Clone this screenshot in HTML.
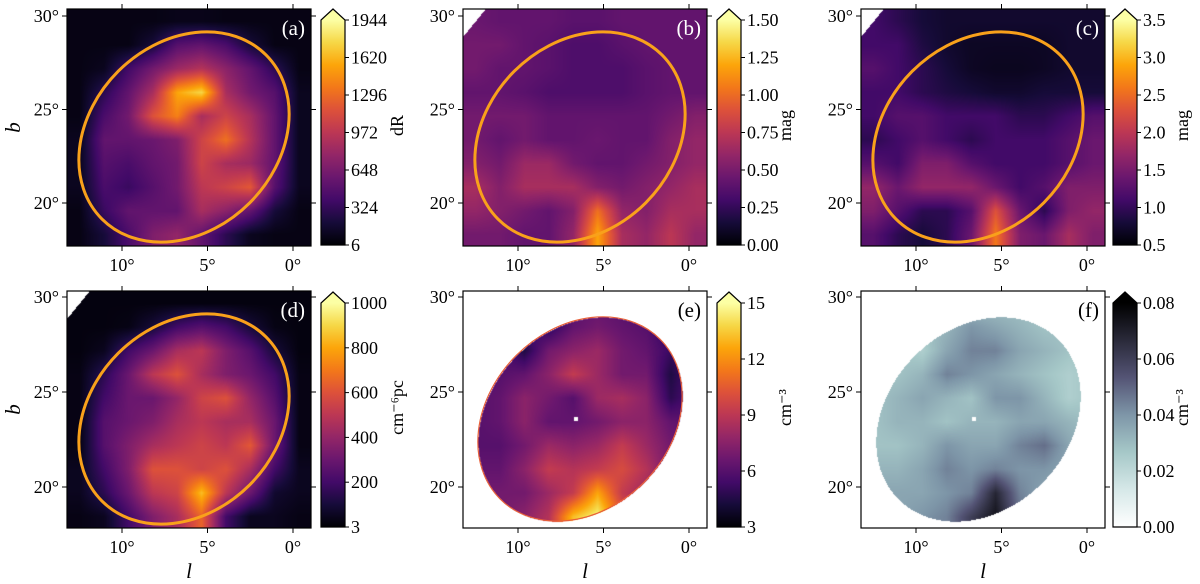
<!DOCTYPE html>
<html><head><meta charset="utf-8">
<style>
html,body{margin:0;padding:0;background:#fff;}
#wrap{position:relative;width:1200px;height:584px;overflow:hidden;font-family:"Liberation Serif",serif;}
canvas{position:absolute;}
svg{position:absolute;left:0;top:0;font-family:"Liberation Serif",serif;}
</style></head>
<body>
<div id="wrap">
<canvas id="c0"></canvas>
<canvas id="c1"></canvas>
<canvas id="c2"></canvas>
<canvas id="c3"></canvas>
<canvas id="c4"></canvas>
<canvas id="c5"></canvas>
<svg id="ov" width="1200" height="584"></svg>
</div>
<script>
// ---- data: normalized map grids (fraction of colorbar range), 10x10, rows top->bottom ----
const gridA = [
[0.03,0.03,0.03,0.03,0.04,0.04,0.03,0.03,0.03,0.03],
[0.03,0.03,0.03,0.10,0.25,0.28,0.22,0.10,0.03,0.03],
[0.03,0.05,0.20,0.32,0.42,0.48,0.38,0.28,0.15,0.03],
[0.03,0.15,0.28,0.45,0.80,0.90,0.45,0.32,0.25,0.05],
[0.03,0.22,0.32,0.60,0.72,0.45,0.55,0.45,0.28,0.05],
[0.05,0.28,0.28,0.30,0.35,0.55,0.68,0.48,0.28,0.05],
[0.05,0.25,0.22,0.28,0.32,0.55,0.45,0.42,0.28,0.05],
[0.05,0.22,0.18,0.25,0.32,0.50,0.55,0.62,0.25,0.05],
[0.03,0.18,0.28,0.28,0.28,0.45,0.38,0.28,0.10,0.03],
[0.03,0.10,0.22,0.35,0.40,0.28,0.15,0.05,0.03,0.03]];
const gridB = [
[0.30,0.28,0.28,0.28,0.26,0.26,0.28,0.28,0.28,0.28],
[0.32,0.32,0.28,0.26,0.23,0.23,0.26,0.28,0.28,0.28],
[0.32,0.28,0.28,0.26,0.23,0.23,0.23,0.26,0.28,0.28],
[0.28,0.28,0.26,0.23,0.23,0.23,0.23,0.26,0.28,0.28],
[0.32,0.32,0.32,0.28,0.28,0.28,0.28,0.28,0.32,0.36],
[0.32,0.28,0.32,0.28,0.28,0.30,0.28,0.28,0.36,0.40],
[0.36,0.32,0.42,0.42,0.32,0.28,0.28,0.32,0.36,0.40],
[0.45,0.36,0.45,0.45,0.45,0.36,0.32,0.36,0.40,0.45],
[0.40,0.36,0.32,0.28,0.36,0.68,0.40,0.36,0.45,0.45],
[0.32,0.32,0.28,0.28,0.40,0.80,0.45,0.40,0.50,0.40]];
const gridC = [
[0.20,0.15,0.10,0.08,0.08,0.08,0.08,0.08,0.08,0.08],
[0.20,0.20,0.12,0.08,0.06,0.06,0.06,0.06,0.08,0.08],
[0.25,0.20,0.15,0.10,0.06,0.05,0.05,0.06,0.08,0.08],
[0.20,0.20,0.15,0.12,0.10,0.08,0.08,0.10,0.10,0.10],
[0.20,0.25,0.25,0.20,0.20,0.20,0.15,0.15,0.20,0.25],
[0.15,0.20,0.25,0.20,0.15,0.20,0.20,0.20,0.25,0.30],
[0.25,0.20,0.35,0.35,0.25,0.20,0.20,0.20,0.25,0.30],
[0.40,0.30,0.40,0.40,0.40,0.30,0.20,0.25,0.35,0.35],
[0.35,0.25,0.15,0.15,0.25,0.60,0.30,0.15,0.35,0.40],
[0.25,0.15,0.10,0.15,0.30,0.70,0.35,0.30,0.45,0.35]];
const gridD = [
[0.02,0.02,0.02,0.02,0.02,0.02,0.02,0.02,0.02,0.02],
[0.02,0.02,0.03,0.10,0.20,0.25,0.20,0.10,0.03,0.02],
[0.02,0.05,0.20,0.30,0.45,0.50,0.35,0.25,0.10,0.02],
[0.03,0.15,0.30,0.50,0.60,0.45,0.35,0.30,0.20,0.03],
[0.03,0.20,0.30,0.30,0.40,0.55,0.60,0.40,0.25,0.03],
[0.03,0.25,0.30,0.35,0.45,0.50,0.45,0.45,0.30,0.03],
[0.03,0.25,0.35,0.45,0.50,0.55,0.50,0.62,0.30,0.03],
[0.05,0.20,0.35,0.60,0.60,0.55,0.60,0.45,0.20,0.05],
[0.05,0.15,0.30,0.50,0.55,0.85,0.50,0.30,0.08,0.05],
[0.03,0.05,0.20,0.35,0.45,0.65,0.20,0.05,0.05,0.03]];
const gridE = [
[0.25,0.25,0.25,0.20,0.25,0.28,0.25,0.20,0.15,0.25],
[0.25,0.25,0.25,0.15,0.28,0.32,0.28,0.25,0.15,0.25],
[0.25,0.25,0.12,0.32,0.38,0.42,0.32,0.28,0.18,0.25],
[0.25,0.25,0.28,0.38,0.52,0.42,0.32,0.32,0.12,0.25],
[0.25,0.28,0.38,0.32,0.25,0.42,0.45,0.38,0.15,0.25],
[0.25,0.28,0.38,0.28,0.28,0.32,0.38,0.38,0.28,0.25],
[0.25,0.25,0.32,0.42,0.38,0.42,0.52,0.42,0.32,0.32],
[0.28,0.28,0.38,0.52,0.48,0.52,0.58,0.48,0.32,0.32],
[0.32,0.32,0.32,0.42,0.52,0.80,0.52,0.42,0.32,0.32],
[0.32,0.32,0.38,0.48,0.85,0.97,0.62,0.42,0.32,0.32]];
const gridF = [
[0.35,0.35,0.35,0.35,0.35,0.35,0.35,0.35,0.35,0.35],
[0.35,0.35,0.35,0.40,0.50,0.45,0.40,0.35,0.35,0.35],
[0.35,0.35,0.30,0.45,0.55,0.55,0.45,0.40,0.35,0.35],
[0.35,0.35,0.40,0.55,0.50,0.45,0.40,0.35,0.30,0.35],
[0.35,0.40,0.45,0.40,0.35,0.50,0.50,0.40,0.30,0.35],
[0.35,0.40,0.40,0.35,0.40,0.40,0.45,0.45,0.40,0.35],
[0.35,0.35,0.40,0.50,0.45,0.45,0.55,0.60,0.45,0.40],
[0.40,0.40,0.45,0.55,0.50,0.55,0.50,0.50,0.45,0.40],
[0.45,0.45,0.45,0.50,0.55,0.85,0.55,0.45,0.40,0.40],
[0.45,0.45,0.50,0.55,0.75,0.92,0.60,0.50,0.40,0.40]];

// ---- tick labels ----
const xTicks = [10, 5, 0];
const yTicks = [30, 25, 20];
const cbTicksA = ["6","324","648","972","1296","1620","1944"];
const cbTicksB = ["0.00","0.25","0.50","0.75","1.00","1.25","1.50"];
const cbTicksC = ["0.5","1.0","1.5","2.0","2.5","3.0","3.5"];
const cbTicksD = ["3","200","400","600","800","1000"];
const cbTicksE = ["3","6","9","12","15"];
const cbTicksF = ["0.00","0.02","0.04","0.06","0.08"];
const cbLabels = ["dR","mag","mag","cm\u207B\u2076pc","cm\u207B\u00B3","cm\u207B\u00B3"];
const panelLetters = ["(a)","(b)","(c)","(d)","(e)","(f)"];

// ---- layout ----
const AX_L = [67, 463, 861], AX_W = 244;
const AX_T = [9, 291], AX_H = 237;
const CB_L = [321, 717, 1113], CB_W = 24;
const CB_TIP = [9, 292], CB_TOP = [20, 303];
const CB_LABEL_X = [397, 785, 1182];

const inferno = [[0,0,4],[22,11,57],[66,10,104],[106,23,110],[147,38,103],[188,55,84],[221,81,58],[243,120,25],[252,165,10],[246,215,70],[252,255,164]];
const boneR = [[255,255,255],[214,232,232],[166,200,200],[126,150,168],[84,84,117],[42,42,58],[0,0,0]];
function cmap(stops, v){
  v = Math.max(0, Math.min(1, v));
  const p = v*(stops.length-1), i = Math.min(Math.floor(p), stops.length-2), f = p-i;
  return stops[i].map((c,k)=>Math.round(c+(stops[i+1][k]-c)*f));
}
function sample(g, fx, fy){
  const n = g.length, m = g[0].length;
  let x = fx*m-0.5, y = fy*n-0.5;
  x = Math.max(0, Math.min(m-1, x)); y = Math.max(0, Math.min(n-1, y));
  const x0 = Math.min(Math.floor(x), m-2), y0 = Math.min(Math.floor(y), n-2);
  const tx = x-x0, ty = y-y0;
  const a = g[y0][x0]*(1-tx)+g[y0][x0+1]*tx, b = g[y0+1][x0]*(1-tx)+g[y0+1][x0+1]*tx;
  return a*(1-ty)+b*ty;
}
const EL = {cx:117, cy:128, rx:116, ry:93, rot:-45};
function inEllipse(px, py, shrink){
  const t = EL.rot*Math.PI/180, dx = px-EL.cx, dy = py-EL.cy;
  const u = dx*Math.cos(t)+dy*Math.sin(t), w = -dx*Math.sin(t)+dy*Math.cos(t);
  const a = EL.rx-shrink, b = EL.ry-shrink;
  return (u*u)/(a*a)+(w*w)/(b*b) <= 1;
}
const panels = [
 {grid:gridA, cm:inferno, mask:false, corner:false, ticks:cbTicksA},
 {grid:gridB, cm:inferno, mask:false, corner:true, ticks:cbTicksB},
 {grid:gridC, cm:inferno, mask:false, corner:true, ticks:cbTicksC},
 {grid:gridD, cm:inferno, mask:false, corner:true, ticks:cbTicksD},
 {grid:gridE, cm:inferno, mask:true, corner:false, ticks:cbTicksE},
 {grid:gridF, cm:boneR, mask:true, corner:false, ticks:cbTicksF}];

const NS = "http://www.w3.org/2000/svg";
const ov = document.getElementById('ov');
function mk(tag, attrs, parent){
  const e = document.createElementNS(NS, tag);
  for (const k in attrs) e.setAttribute(k, attrs[k]);
  (parent||ov).appendChild(e);
  return e;
}
const defs = mk('defs', {});
function xScale(l){ return 226 - l*17.1; }
function yScale(b, r){ return (r===0?7:6) + (30-b)*(r===0?18.7:19); }

panels.forEach((P, idx)=>{
  const col = idx%3, row = Math.floor(idx/3);
  const L = AX_L[col], T = AX_T[row];
  const cv = document.getElementById('c'+idx);
  cv.width = AX_W; cv.height = AX_H;
  cv.style.left = L+'px'; cv.style.top = T+'px';
  const ctx = cv.getContext('2d');
  const img = ctx.createImageData(AX_W, AX_H);
  for (let y=0; y<AX_H; y++) for (let x=0; x<AX_W; x++){
    let c;
    const k = (y*AX_W+x)*4;
    if (P.mask && !inEllipse(x, y, 3)) { c=[255,255,255]; }
    else if (P.corner && (x/22 + y/27) < 1) { c=[255,255,255]; }
    else c = cmap(P.cm, sample(P.grid, x/AX_W, y/AX_H));
    img.data[k]=c[0]; img.data[k+1]=c[1]; img.data[k+2]=c[2]; img.data[k+3]=255;
  }
  if (P.mask){
    for (let y=126; y<130; y++) for (let x=111; x<115; x++){ const k=(y*AX_W+x)*4; img.data[k]=img.data[k+1]=img.data[k+2]=255; }
  }
  ctx.putImageData(img, 0, 0);

  const g = mk('g', {transform:`translate(${L},${T})`});
  
  
  if (idx===4){
    const rim = mk('ellipse', {cx:EL.cx, cy:EL.cy, rx:EL.rx-3, ry:EL.ry-3, transform:`rotate(${EL.rot} ${EL.cx} ${EL.cy})`, fill:'none', stroke:'#e8603a', 'stroke-width':1.2}, g);
    
    
  }
  if (idx<4){
    const el = mk('ellipse', {cx:EL.cx, cy:EL.cy, rx:EL.rx, ry:EL.ry, transform:`rotate(${EL.rot} ${EL.cx} ${EL.cy})`, fill:'none', stroke:'#f9a11b', 'stroke-width':3}, g);
    
    
  }
  const fr = mk('rect', {x:0, y:0, width:AX_W, height:AX_H, fill:'none', stroke:'#000', 'stroke-width':1.2}, g);
  
  
  xTicks.forEach(l=>{
    const x = xScale(l);
    const t1 = mk('line', {x1:x, x2:x, y1:0, y2:-5, stroke:'#000', 'stroke-width':1}, g);
    
    
    const t2 = mk('line', {x1:x, x2:x, y1:AX_H, y2:AX_H+5, stroke:'#000', 'stroke-width':1}, g);
    
    
    const tl = mk('text', {x:x, y:AX_H+25, 'text-anchor':'middle', 'font-size':18, fill:'#000'}, g);
    tl.textContent = l+'\u00B0';
    
    
  });
  yTicks.forEach(b=>{
    const y = yScale(b, row);
    const t1 = mk('line', {x1:0, x2:-5, y1:y, y2:y, stroke:'#000', 'stroke-width':1}, g);
    
    
    const t2 = mk('line', {x1:AX_W, x2:AX_W+5, y1:y, y2:y, stroke:'#000', 'stroke-width':1}, g);
    
    
    const tl = mk('text', {x:-8, y:y+6, 'text-anchor':'end', 'font-size':18, fill:'#000'}, g);
    tl.textContent = b+'\u00B0';
    
    
  });
  const pl = mk('text', {x:AX_W-6, y:26, 'text-anchor':'end', 'font-size':21, fill: idx<4?'#fff':'#000'}, g);
  pl.textContent = panelLetters[idx];
  
  
  if (col===0){
    const yl = mk('text', {x:-47, y:AX_H/2, 'text-anchor':'middle', 'font-size':21, 'font-style':'italic', fill:'#000', transform:`rotate(-90 -47 ${AX_H/2})`}, g);
    yl.textContent = 'b';
    
    
  }
  if (row===1){
    const xl = mk('text', {x:AX_W/2, y:AX_H+50, 'text-anchor':'middle', 'font-size':21, 'font-style':'italic', fill:'#000'}, g);
    xl.textContent = 'l';
    
    
  }

  const cbL = CB_L[col], cbTop = CB_TOP[row], cbTip = CB_TIP[row], cbBot = T+AX_H-1;
  const gid = 'grad'+idx;
  const lg = mk('linearGradient', {id:gid, x1:0, y1:1, x2:0, y2:0}, defs);
  P.cm.forEach((c,i)=>{ mk('stop', {offset:(i/(P.cm.length-1)).toFixed(3), 'stop-color':`rgb(${c[0]},${c[1]},${c[2]})`}, lg); });
  const cg = mk('g', {});
  
  
  const top = P.cm[P.cm.length-1];
  const body = mk('rect', {x:cbL, y:cbTop, width:CB_W, height:cbBot-cbTop, fill:`url(#${gid})`}, cg);
  
  
  const tip = mk('polygon', {points:`${cbL},${cbTop} ${cbL+CB_W/2},${cbTip} ${cbL+CB_W},${cbTop}`, fill:`rgb(${top[0]},${top[1]},${top[2]})`}, cg);
  
  
  const outline = mk('polygon', {points:`${cbL},${cbBot} ${cbL},${cbTop} ${cbL+CB_W/2},${cbTip} ${cbL+CB_W},${cbTop} ${cbL+CB_W},${cbBot}`, fill:'none', stroke:'#000', 'stroke-width':1.2}, cg);
  
  
  const n = P.ticks.length;
  P.ticks.forEach((lab,i)=>{
    const y = cbBot - (cbBot-cbTop)*i/(n-1);
    const tk = mk('line', {x1:cbL+CB_W, x2:cbL+CB_W+4, y1:y, y2:y, stroke:'#000', 'stroke-width':1}, cg);
    
    
    const tl = mk('text', {x:cbL+CB_W+6, y:y+6, 'font-size':18, fill:'#000'}, cg);
    tl.textContent = lab;
    
    
  });
  const cy = T+AX_H/2 - 2;
  const cl = mk('text', {x:CB_LABEL_X[col]+6, y:cy, 'text-anchor':'middle', 'font-size':18, fill:'#000', transform:`rotate(-90 ${CB_LABEL_X[col]+6} ${cy})`}, cg);
  cl.textContent = cbLabels[idx];
  
  
});
</script>
</body></html>
